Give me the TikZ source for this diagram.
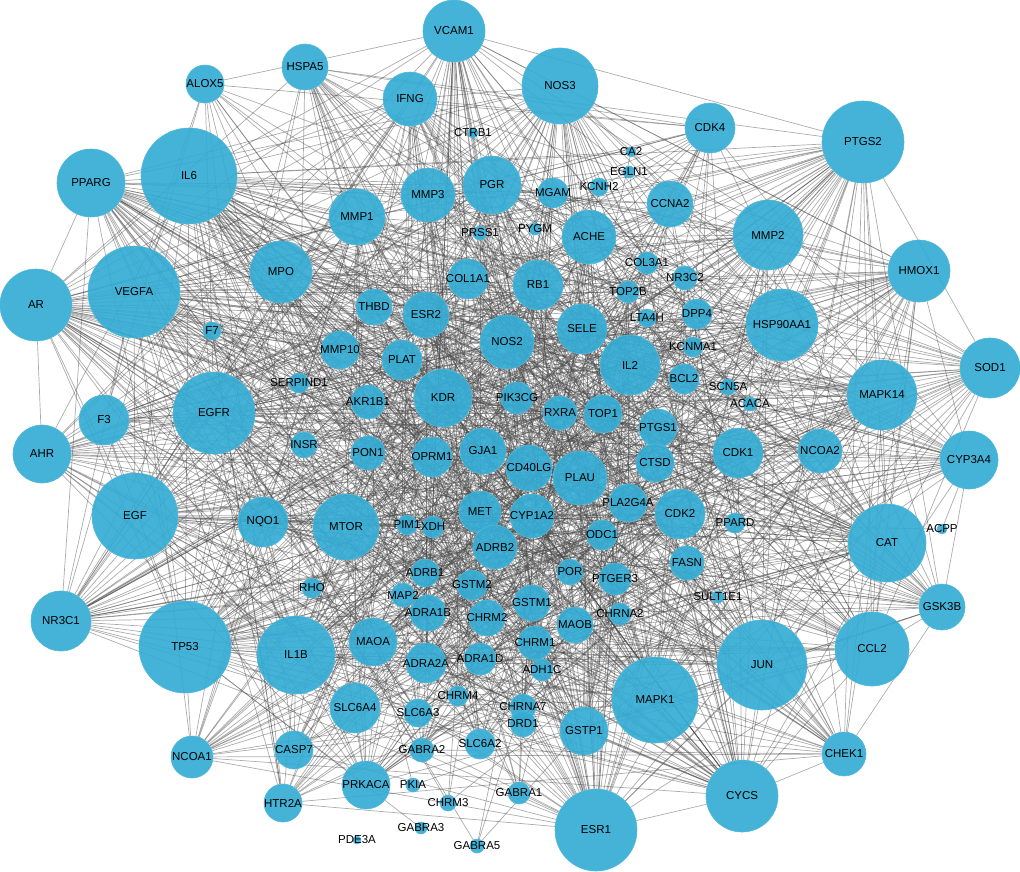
\documentclass[tikz,border=0pt]{standalone}
\usepackage{fontspec}
\setmainfont{Liberation Sans}
\usetikzlibrary{backgrounds}
\usepackage{xcolor}
\definecolor{genefill}{RGB}{52,172,212}

\tikzset{
  gene/.style={circle, fill=genefill, fill opacity=0.92, draw=genefill!85!white, line width=0.6pt, inner sep=0pt},
  genelabel/.style={inner sep=0pt, font=\fontsize{11.5}{12}\selectfont, text=black},
  link/.style={draw=black!72, draw opacity=0.45, line width=0.7pt}
}

% name / x / y / radius (pixels of the 1020x871 layout)
\def\genelist{VCAM1/454/31/31, HSPA5/305/67/23, ALOX5/205/84/19, NOS3/560/86/38,
IFNG/410/99/27, CTRB1/473/133/5, CDK4/710/128/25, PTGS2/863/142/41,
CA2/631/152/5, EGLN1/629/172/6, PPARG/91/183/34, IL6/189/176/48,
MMP1/357/217/28, MMP3/428/195/27, PGR/492/185/29, MGAM/553/193/15,
KCNH2/599/187/9, CCNA2/670/204/23, PRSS1/480/233/7, PYGM/535/229/6,
ACHE/589/237/27, MMP2/768/235/35, HMOX1/919/271/31, MPO/281/272/31,
COL1A1/468/279/20, COL3A1/647/263/11, NR3C2/685/278/12, AR/36/305/36,
VEGFA/134/292/46, RB1/538/285/25, TOP2B/628/292/11, THBD/374/307/18,
ESR2/426/315/23, SELE/582/329/25, LTA4H/647/318/9, DPP4/697/314/15,
HSP90AA1/782/325/36, F7/212/331/9, MMP10/340/350/19, NOS2/507/342/27,
KCNMA1/693/347/10, PLAT/402/360/20, IL2/630/365/30, SOD1/990/368/30,
SERPIND1/299/383/10, SCN5A/728/387/8, BCL2/684/379/15, AKR1B1/368/402/17,
KDR/443/398/29, PIK3CG/517/398/16, RXRA/560/413/17, TOP1/603/414/19,
ACACA/750/404/7, MAPK14/882/395/35, F3/104/420/25, EGFR/214/413/41,
INSR/304/445/13, PTGS1/658/428/19, AHR/42/454/29, PON1/368/453/17,
OPRM1/432/457/20, GJA1/483/451/23, CD40LG/529/468/23, PLAU/580/478/27,
CTSD/655/463/19, CDK1/738/453/25, NCOA2/820/451/22, CYP3A4/969/460/29,
EGF/135/516/43, NQO1/263/522/25, MTOR/346/527/33, PIM1/407/525/10,
XDH/433/527/11, MET/480/512/21, CYP1A2/532/516/22, PLA2G4A/628/503/19,
CDK2/680/514/25, PPARD/735/523/10, ACPP/942/529/5, ODC1/602/535/15,
CAT/887/543/39, ADRB2/495/547/22, ADRB1/425/573/14, POR/570/572/13,
PTGER3/615/579/16, FASN/687/563/17, RHO/312/588/10, MAP2/403/595/12,
GSTM2/472/585/15, SULT1E1/718/597/6, GSK3B/942/607/23, NR3C1/61/621/30,
GSTM1/532/603/18, ADRA1B/428/613/18, CHRM2/487/618/18, MAOB/575/625/18,
CHRNA2/620/614/11, TP53/185/647/46, IL1B/296/655/39, MAOA/373/642/24,
CHRM1/535/643/17, ADRA2A/426/663/20, ADRA1D/480/659/16, ADH1C/542/670/11,
CCL2/872/649/37, JUN/762/665/45, SLC6A4/355/708/25, CHRM4/458/696/10,
SLC6A3/418/713/14, CHRNA7/523/707/13, MAPK1/655/700/43, DRD1/523/724/13,
GSTP1/584/731/24, NCOA1/192/757/21, CASP7/294/750/19, GABRA2/422/750/12,
SLC6A2/480/744/15, CHEK1/844/754/22, PRKACA/366/785/24, PKIA/413/785/7,
HTR2A/283/803/19, CHRM3/448/803/8, GABRA1/519/793/11, CYCS/742/796/36,
PDE3A/357/840/4, GABRA3/421/828/6, GABRA5/477/846/7, ESR1/596/830/41}

\begin{document}
\begin{tikzpicture}[x=1pt,y=1pt,yscale=-1,xscale=1]
\useasboundingbox (0,0) rectangle (1020,871);

% Shape: gene circles
\foreach \n/\x/\y/\rad in \genelist
  \node [gene, minimum size=2*\rad pt] (\n) at (\x,\y) {};

% Text Node: gene names
\foreach \n/\x/\y/\rad in \genelist
  \node [genelabel] (\n-txt) at (\n) {\n};

% Straight Lines: interactions, more of them on the larger genes
\pgfmathsetseed{7}
\begin{scope}[on background layer]
\foreach \n/\x/\y/\rad [count=\i] in \genelist {
  \foreach \m/\xb/\yb/\radb [count=\j] in \genelist {
    \ifnum\j>\i
      \pgfmathsetmacro\roll{10000*rnd}
      \pgfmathsetmacro\cut{6.5*(\rad-4)*(\radb-4)}
      \ifdim\roll pt<\cut pt
        \draw [link] (\n) -- (\m);
      \fi
    \fi
  }
}
\end{scope}
\end{tikzpicture}
\end{document}
